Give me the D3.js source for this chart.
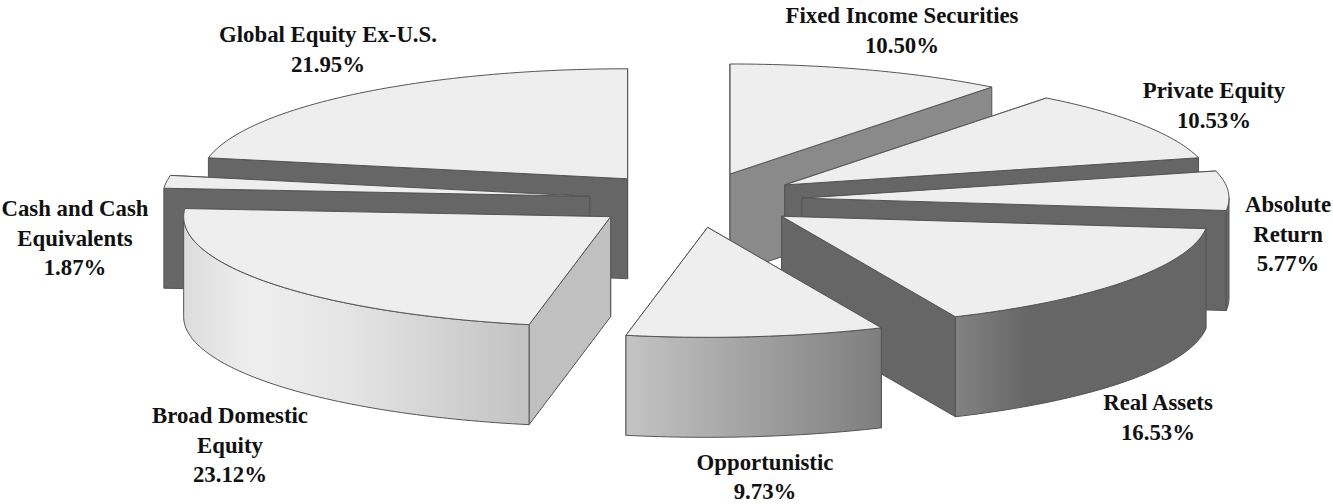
<!DOCTYPE html>
<html>
<head>
<meta charset="utf-8">
<style>
  html, body { margin: 0; padding: 0; background: #fff; }
  svg { display: block; }
  text { font-family: "Liberation Serif", serif; font-weight: bold; font-size: 22.8px; fill: #111; text-anchor: middle; }
</style>
<script src="https://cdn.jsdelivr.net/npm/d3@7"></script>
</head>
<body>
<script>
// data, clockwise from 12 o'clock
const categories = ["Fixed Income Securities", "Private Equity", "Absolute Return", "Real Assets",
  "Opportunistic", "Broad Domestic Equity", "Cash and Cash Equivalents", "Global Equity Ex-U.S."];
const values = [10.50, 10.53, 5.77, 16.53, 9.73, 23.12, 1.87, 21.95];
const labelLines = [
  ["Fixed Income Securities"], ["Private Equity"], ["Absolute", "Return"], ["Real Assets"],
  ["Opportunistic"], ["Broad Domestic", "Equity"], ["Cash and Cash", "Equivalents"], ["Global Equity Ex-U.S."]
];

// layout and styles, same order as categories
const labelX = [902, 1214, 1288, 1158, 765, 230, 75, 328];
const labelY = [23, 98, 212, 410, 469.5, 423, 216, 42];
const wallFill = ["#8a8a8a", "#666", "#666", "#666", "#999", "#c0c0c0", "#666", "#666"];
const rimStops = [
  [[0, "#8a8a8a"], [1, "#8a8a8a"]],
  [[0, "#666"], [1, "#666"]],
  [[0, "#666"], [1, "#6e6e6e"]],
  [[0, "#828282"], [0.3, "#666"], [1, "#666"]],
  [[0, "#c4c4c4"], [1, "#7e7e7e"]],
  [[0, "#dcdcdc"], [0.2, "#eeeeee"], [0.45, "#e6e6e6"], [1, "#c2c2c2"]],
  [[0, "#666"], [1, "#666"]],
  [[0, "#666"], [1, "#666"]]
];
const drawOrder = [7, 6, 5, 0, 1, 2, 3, 4]; // back to front

const width = 1333, height = 504;
const cx = 695.5, cy = 200, rx = 427, ry = 110;
const depth = 100, explode = 0.25, lineGap = 29.5;

const svg = d3.select("body").append("svg").attr("width", width).attr("height", height);
const defs = svg.append("defs");

const xScale = d3.scaleLinear().domain([-1, 1]).range([cx - rx, cx + rx]);
const yScale = d3.scaleLinear().domain([-1, 1]).range([cy - ry, cy + ry]);

const slices = d3.pie().sort(null).value(d => d)(values);
const line = d3.line();

// point on the unit disc at angle a (0 = up, clockwise), for a slice pushed out along its middle
function pt(s, a, r = 1, dy = 0) {
  const mid = (s.startAngle + s.endAngle) / 2;
  const ux = explode * Math.sin(mid) + r * Math.sin(a);
  const uy = -explode * Math.cos(mid) - r * Math.cos(a);
  return [xScale(ux), yScale(uy) + dy];
}

function arcPts(s, a0, a1, dy = 0) {
  const n = Math.max(2, Math.ceil((a1 - a0) / 0.02));
  return d3.range(n + 1).map(i => pt(s, a0 + (a1 - a0) * i / n, 1, dy));
}

function face(d, fill) {
  return svg.append("path")
    .attr("d", line(d) + "Z")
    .attr("fill", fill)
    .attr("stroke", "#555")
    .attr("stroke-width", 1)
    .attr("stroke-linejoin", "round");
}

drawOrder.forEach(i => {
  const s = slices[i];
  const apex = pt(s, 0, 0), apexLow = pt(s, 0, 0, depth);

  // the two flat walls, the one whose outer end lies further back goes first
  const walls = [s.startAngle, s.endAngle].sort((a, b) => pt(s, a)[1] - pt(s, b)[1]);
  walls.forEach(a => {
    face([apex, pt(s, a), pt(s, a, 1, depth), apexLow], wallFill[i]);
  });

  // outer curved side, only the part that faces the viewer
  const a0 = Math.max(s.startAngle, Math.PI / 2);
  const a1 = Math.min(s.endAngle, Math.PI * 1.5);
  if (a1 > a0) {
    const top = arcPts(s, a0, a1);
    const bottom = arcPts(s, a0, a1, depth).reverse();
    // left to right across the rim
    const xs = d3.extent(top, p => p[0]);
    const grad = defs.append("linearGradient")
      .attr("id", "rim" + i)
      .attr("gradientUnits", "userSpaceOnUse")
      .attr("x1", xs[0]).attr("x2", xs[1]).attr("y1", 0).attr("y2", 0);
    rimStops[i].forEach(st => grad.append("stop").attr("offset", st[0]).attr("stop-color", st[1]));
    face(top.concat(bottom), `url(#rim${i})`);
  }

  // top
  face([apex].concat(arcPts(s, s.startAngle, s.endAngle)), "#eeeeee");
});

// labels
categories.forEach((c, i) => {
  const t = svg.append("text").attr("aria-label", c);
  labelLines[i].concat(values[i].toFixed(2) + "%").forEach((l, j) => {
    t.append("tspan").attr("x", labelX[i]).attr("y", labelY[i] + j * lineGap).text(l);
  });
});
</script>
</body>
</html>
